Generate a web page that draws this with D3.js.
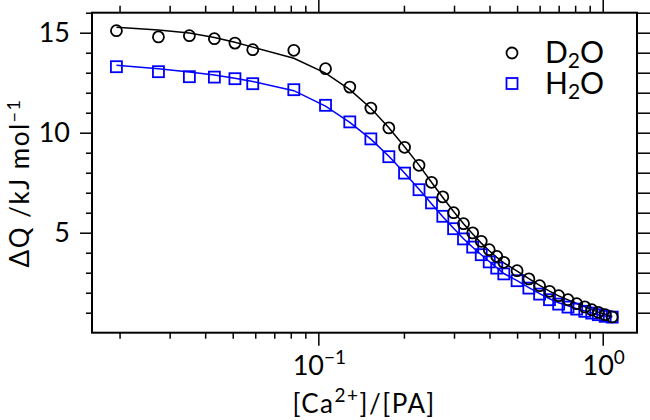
<!DOCTYPE html>
<html>
<head>
<meta charset="utf-8">
<script src="https://cdn.jsdelivr.net/npm/d3@7"></script>
<style>
  body { margin: 0; background: #fff; }
  text { font-family: Lato, "DejaVu Sans", sans-serif; }
</style>
</head>
<body>
<svg id="chart"></svg>
<script>
// ratio [Ca2+]/[PA]
var ratio = [0.0195, 0.0274, 0.0352, 0.0431, 0.0509, 0.0588, 0.082,
  0.106, 0.129, 0.153, 0.177, 0.201, 0.226, 0.250, 0.274, 0.299, 0.324,
  0.349, 0.374, 0.399, 0.424, 0.449, 0.50, 0.55, 0.60, 0.65, 0.70,
  0.755, 0.81, 0.865, 0.915, 0.965, 1.02, 1.08];

var d2o = [15.1, 14.79, 14.85, 14.7, 14.48, 14.15, 14.12,
  13.2, 12.28, 11.23, 10.24, 9.27, 8.37, 7.52, 6.79, 6.0, 5.45,
  4.99, 4.57, 4.15, 3.82, 3.52, 3.1, 2.69, 2.35, 2.07, 1.85,
  1.65, 1.45, 1.29, 1.15, 1.02, 0.9, 0.79];
var d2oFit = [15.27, 15.13, 14.98, 14.76, 14.52, 14.28, 13.72,
  12.98, 12.15, 11.22, 10.25, 9.3, 8.38, 7.52, 6.76, 6.06, 5.45,
  4.93, 4.48, 4.1, 3.77, 3.49, 3.08, 2.7, 2.37, 2.08, 1.84,
  1.64, 1.46, 1.3, 1.16, 1.03, 0.92, 0.81];

var h2o = [13.3, 13.05, 12.8, 12.78, 12.7, 12.45, 12.15,
  11.37, 10.54, 9.69, 8.8, 7.98, 7.15, 6.49, 5.82, 5.2, 4.69,
  4.28, 3.9, 3.54, 3.23, 2.94, 2.6, 2.23, 1.93, 1.65, 1.43,
  1.28, 1.18, 1.07, 0.98, 0.9, 0.82, 0.78];
var h2oFit = [13.37, 13.2, 13.04, 12.88, 12.72, 12.56, 12.1,
  11.33, 10.52, 9.68, 8.82, 7.98, 7.17, 6.45, 5.8, 5.22, 4.7,
  4.27, 3.9, 3.56, 3.25, 2.96, 2.6, 2.25, 1.95, 1.7, 1.5,
  1.34, 1.2, 1.09, 0.99, 0.9, 0.83, 0.77];

var yTicks = [5, 10, 15];
var xTicks = [0.1, 1];
var xTickExp = ['\u22121', '0'];

var width = 650, height = 420;
var pL = 92, pR = 637, pT = 12.7, pB = 332.7;

var svg = d3.select('#chart')
  .attr('width', width)
  .attr('height', height);

var x = d3.scaleLog().domain([0.016, 1.32]).range([pL, pR]);
var y = d3.scaleLinear().domain([0, 16]).range([pB, pT]);

// minor ticks
var xMinor = [];
[0.01, 0.1, 1].forEach(function(d) {
  for (var k = 2; k <= 9; k++) {
    var v = d * k;
    if (v > 0.016 && v < 1.32) xMinor.push(v);
  }
});
var yMinor = d3.range(1, 17).filter(function(d) { return yTicks.indexOf(d) < 0; });

function style(g) {
  g.select('.domain').remove();
  g.selectAll('line').attr('stroke', '#000').attr('stroke-width', 1.5);
}

// bottom
svg.append('g').attr('transform', 'translate(0,' + pB + ')')
  .call(d3.axisBottom(x).tickValues(xMinor).tickSize(6).tickFormat(''))
  .call(style);
svg.append('g').attr('transform', 'translate(0,' + pB + ')')
  .call(d3.axisBottom(x).tickValues(xTicks).tickSize(13).tickFormat(''))
  .call(style);
// top
svg.append('g').attr('transform', 'translate(0,' + pT + ')')
  .call(d3.axisTop(x).tickValues(xMinor).tickSize(7).tickFormat(''))
  .call(style);
svg.append('g').attr('transform', 'translate(0,' + pT + ')')
  .call(d3.axisTop(x).tickValues(xTicks).tickSize(14).tickFormat(''))
  .call(style);
// left
svg.append('g').attr('transform', 'translate(' + pL + ',0)')
  .call(d3.axisLeft(y).tickValues(yMinor).tickSize(6).tickFormat(''))
  .call(style);
svg.append('g').attr('transform', 'translate(' + pL + ',0)')
  .call(d3.axisLeft(y).tickValues(yTicks).tickSize(12).tickFormat(''))
  .call(style);
// right
svg.append('g').attr('transform', 'translate(' + pR + ',0)')
  .call(d3.axisRight(y).tickValues(d3.range(1, 17)).tickSize(14).tickFormat(''))
  .call(style);

// frame
svg.append('rect')
  .attr('x', pL).attr('y', pT)
  .attr('width', pR - pL).attr('height', pB - pT)
  .attr('fill', 'none').attr('stroke', '#000').attr('stroke-width', 2);

// tick labels
svg.selectAll('.ylab').data(yTicks).enter().append('text')
  .attr('x', 70).attr('y', function(d) { return y(d); })
  .attr('dy', '0.36em')
  .attr('text-anchor', 'end')
  .attr('font-size', 27)
  .text(function(d) { return d; });

var xl = svg.selectAll('.xlab').data(xTicks).enter().append('text')
  .attr('x', function(d) { return x(d) + 1; })
  .attr('y', 375)
  .attr('text-anchor', 'middle')
  .attr('font-size', 27);
xl.append('tspan').text('10');
xl.append('tspan').attr('dy', -11).attr('font-size', 19)
  .text(function(d, i) { return xTickExp[i]; });

// axis titles
var xt = svg.append('text').attr('x', 364).attr('y', 413)
  .attr('text-anchor', 'middle').attr('font-size', 26)
  .attr('letter-spacing', 1.5);
xt.append('tspan').text('[Ca');
xt.append('tspan').attr('dy', -11).attr('font-size', 19).text('2+');
xt.append('tspan').attr('dy', 11).text(']/[PA]');

var yt = svg.append('text')
  .attr('transform', 'translate(29,183) rotate(-90)')
  .attr('text-anchor', 'middle').attr('font-size', 26)
  .attr('letter-spacing', 1.5);
yt.append('tspan').text('\u0394Q /kJ mol');
yt.append('tspan').attr('dy', -9).attr('font-size', 18).text('\u22121');

// fit lines
var line = function(vals) {
  return d3.line()
    .x(function(d, i) { return x(ratio[i]); })
    .y(function(d) { return y(d); })(vals);
};
svg.append('path').attr('d', line(d2oFit))
  .attr('fill', 'none').attr('stroke', '#000').attr('stroke-width', 1.5);
svg.append('path').attr('d', line(h2oFit))
  .attr('fill', 'none').attr('stroke', '#0000ff').attr('stroke-width', 1.5);

// markers
svg.selectAll('.sq').data(h2o).enter().append('rect')
  .attr('x', function(d, i) { return x(ratio[i]) - 5.5; })
  .attr('y', function(d) { return y(d) - 5.5; })
  .attr('width', 11).attr('height', 11)
  .attr('fill', 'none').attr('stroke', '#0000ff').attr('stroke-width', 1.8);
svg.selectAll('.ci').data(d2o).enter().append('circle')
  .attr('cx', function(d, i) { return x(ratio[i]); })
  .attr('cy', function(d) { return y(d); })
  .attr('r', 5.5)
  .attr('fill', 'none').attr('stroke', '#000').attr('stroke-width', 1.8);

// legend
svg.append('circle').attr('cx', 512).attr('cy', 53).attr('r', 5.5)
  .attr('fill', 'none').attr('stroke', '#000').attr('stroke-width', 1.8);
svg.append('rect').attr('x', 506.5).attr('y', 78).attr('width', 11).attr('height', 11)
  .attr('fill', 'none').attr('stroke', '#0000ff').attr('stroke-width', 1.8);

var names = [['D', 'O', 63], ['H', 'O', 94]];
names.forEach(function(n) {
  var t = svg.append('text').attr('x', 545).attr('y', n[2]).attr('font-size', 30);
  t.append('tspan').text(n[0]);
  t.append('tspan').attr('dy', 5).attr('font-size', 21).text('2');
  t.append('tspan').attr('dy', -5).text(n[1]);
});
</script>
</body>
</html>
